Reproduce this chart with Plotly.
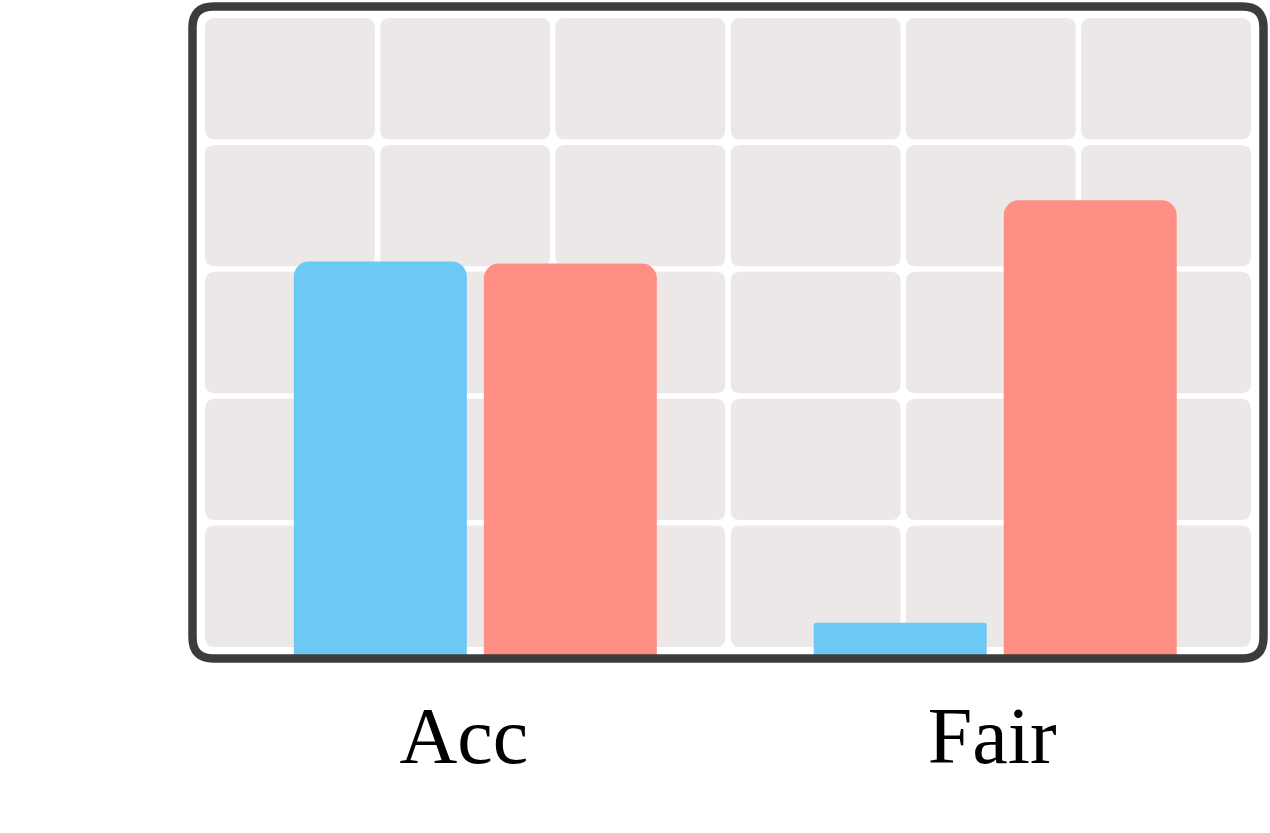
import plotly.graph_objects as go

categories = ["Acc", "Fair"]
series_a = [0.608, 0.054]   # blue
series_b = [0.605, 0.702]   # salmon
colors = ["#6CC8F4", "#FF8F84"]
tick_pos = [-0.022, 0.994]

W, H = 1270, 833
L, R, T, B = 192, 6, 6, 175
PW, PH = W - L - R, H - T - B


def px2paper(x, y):
    return (x - L) / PW, (H - B - y) / PH


def rrect(x0, y0, x1, y1, r):
    def P(x, y):
        a, b = px2paper(x, y)
        return f"{a:.6f},{b:.6f}"
    return (f"M{P(x0 + r, y0)} L{P(x1 - r, y0)} Q{P(x1, y0)} {P(x1, y0 + r)} "
            f"L{P(x1, y1 - r)} Q{P(x1, y1)} {P(x1 - r, y1)} "
            f"L{P(x0 + r, y1)} Q{P(x0, y1)} {P(x0, y1 - r)} "
            f"L{P(x0, y0 + r)} Q{P(x0, y0)} {P(x0 + r, y0)} Z")


shapes = []
col_x0, col_x1, ncol, gx = 205, 1251, 6, 5.2
row_y0, row_y1, nrow, gy = 18, 647, 5, 5.5
cw = (col_x1 - col_x0 - gx * (ncol - 1)) / ncol
ch = (row_y1 - row_y0 - gy * (nrow - 1)) / nrow
for i in range(ncol):
    for j in range(nrow):
        x0 = col_x0 + i * (cw + gx)
        y0 = row_y0 + j * (ch + gy)
        shapes.append(dict(type="path", xref="paper", yref="paper",
                           path=rrect(x0, y0, x0 + cw, y0 + ch, 10),
                           fillcolor="#ECE8E7", line=dict(width=0), layer="below"))
shapes.append(dict(type="path", xref="paper", yref="paper",
                   path=rrect(192.5, 6.5, 1263.5, 658.5, 21),
                   fillcolor="rgba(0,0,0,0)",
                   line=dict(color="#3C3C3C", width=8.5), layer="above"))

xs = list(range(len(categories)))
fig = go.Figure()
# blue series: tall bars get a larger corner radius than the short one
fig.add_trace(go.Bar(x=xs, y=[v if v > 0.2 else None for v in series_a], offsetgroup="a",
                     marker=dict(color=colors[0], cornerradius=15, line=dict(width=0))))
fig.add_trace(go.Bar(x=xs, y=[v if v <= 0.2 else None for v in series_a], offsetgroup="a",
                     marker=dict(color=colors[0], cornerradius=3, line=dict(width=0))))
fig.add_trace(go.Bar(x=xs, y=series_b, offsetgroup="b",
                     marker=dict(color=colors[1], cornerradius=15, line=dict(width=0))))

fig.update_layout(
    width=W, height=H,
    margin=dict(l=L, r=R, t=T, b=B),
    paper_bgcolor="white", plot_bgcolor="rgba(0,0,0,0)",
    barmode="group", bargap=0.269, bargroupgap=0.0895,
    showlegend=False,
    shapes=shapes,
    xaxis=dict(range=[-0.545, 1.517], showgrid=False, zeroline=False, showline=False,
               tickmode="array", tickvals=tick_pos, ticktext=categories,
               ticks="", tickfont=dict(family="Liberation Serif", size=80, color="black"),
               ticklabelstandoff=24),
    yaxis=dict(range=[0, 1], showgrid=False, zeroline=False, showline=False,
               showticklabels=False, ticks=""),
)

fig.write_html("out.html", config={"displayModeBar": False},
               post_script="document.body.style.margin='0';")
